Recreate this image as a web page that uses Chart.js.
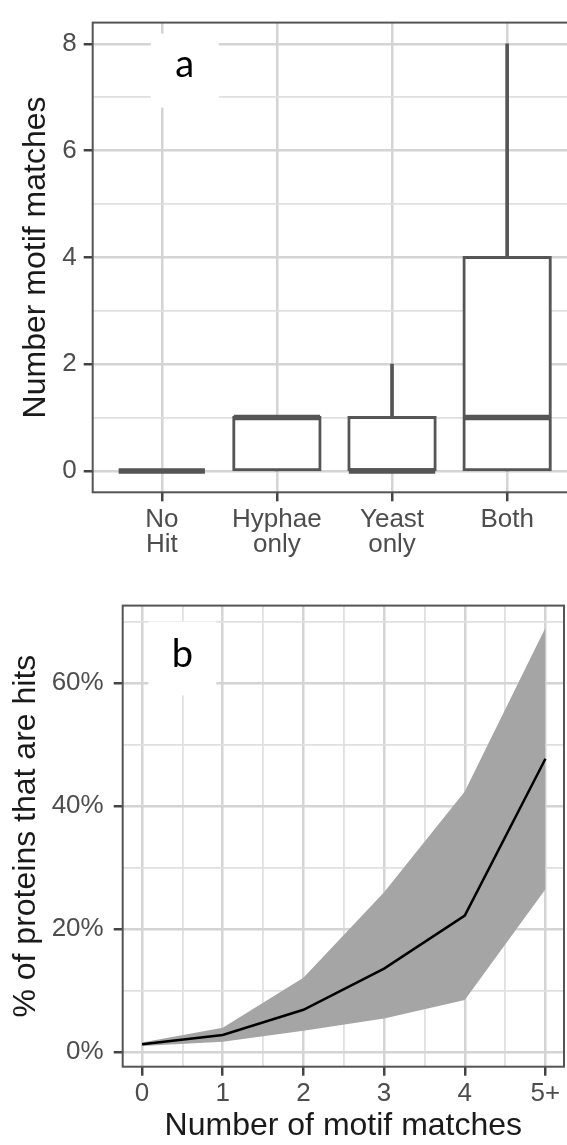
<!DOCTYPE html>
<html>
<head>
<meta charset="utf-8">
<script src="https://cdn.jsdelivr.net/npm/chart.js@4.4.1/dist/chart.umd.min.js"></script>
<style>
  html, body { margin: 0; padding: 0; background: #fff; overflow: hidden; }
  .panel { position: absolute; left: 0; }
  #panelA { top: 0; }
  #panelB { top: 580px; }
</style>
</head>
<body>
<div class="panel" id="panelA"><canvas id="chartA" width="567" height="580"></canvas></div>
<div class="panel" id="panelB"><canvas id="chartB" width="567" height="565"></canvas></div>
<script>
// --- panel a: motif matches per hit group (box plot) ---
const groups = [['No', 'Hit'], ['Hyphae', 'only'], ['Yeast', 'only'], ['Both']]
const whiskerLow = [0, 0, 0, 0]
const q1 = [0, 0, 0, 0]
const medians = [0, 1, 0, 1]
const q3 = [0, 1, 1, 4]
const whiskerHigh = [0, 1, 2, 8]
const countTicks = [0, 2, 4, 6, 8]
const countMinor = [1, 3, 5, 7]

// --- panel b: % hits by number of motif matches ---
const matchLabels = ['0', '1', '2', '3', '4', '5+']
const matchMinor = [0.5, 1.5, 2.5, 3.5, 4.5]
const hitPct = [1.3, 2.8, 6.9, 13.6, 22.2, 47.7]
const hitLow = [1.0, 1.7, 3.5, 5.5, 8.5, 26.5]
const hitHigh = [1.6, 4.0, 12.1, 26.0, 42.4, 69.0]
const pctTicks = [0, 20, 40, 60]
const pctMinor = [10, 30, 50, 70]

const FONT = "'Liberation Sans', Arial, sans-serif"
const ink = '#555555'
const BOX_W = 0.75

// ggplot-ish grid: major lines thicker, minor lighter, ticks only on majors
function gridFor(majors) {
  const isMajor = c => c.tick && majors.includes(c.tick.value)
  return {
    color: c => isMajor(c) ? '#d4d4d4' : '#e0e0e0',
    lineWidth: c => isMajor(c) ? 2.5 : 1.8,
    tickColor: c => isMajor(c) ? '#444' : 'rgba(0,0,0,0)',
    tickWidth: 2.5,
    tickLength: 9,
    offset: false
  }
}

function setTicks(majors, minors) {
  return scale => {
    scale.ticks = majors.concat(minors).sort((a, b) => a - b).map(v => ({ value: v }))
  }
}

const frame = {
  id: 'frame',
  afterDatasetsDraw(chart, args, opts) {
    const { ctx, chartArea: a } = chart
    ctx.save()
    ctx.strokeStyle = '#555'
    ctx.lineWidth = 2
    // panel a is cut on the right in the original figure
    ctx.strokeRect(a.left, a.top, a.width + (opts.openRight ? 30 : 0), a.height)
    ctx.restore()
  }
}

const panelTag = {
  id: 'panelTag',
  beforeDatasetsDraw(chart, args, opts) {
    const { ctx } = chart
    const x = chart.scales.x.getPixelForValue(opts.x)
    const y = chart.scales.y.getPixelForValue(opts.y)
    ctx.save()
    ctx.fillStyle = '#fff'
    ctx.fillRect(x - 34, y - 37, 68, 74)
    ctx.fillStyle = '#000'
    ctx.font = "38px Lato, 'Open Sans', sans-serif"
    ctx.textAlign = 'center'
    ctx.textBaseline = 'middle'
    ctx.fillText(opts.text, x, y + opts.dy)
    ctx.restore()
  }
}

// Chart A
const boxes = groups.map((g, i) => ({ x: i, y: [q1[i], q3[i]] }))
const upperWhiskers = groups.map((g, i) => ({ x: i, y: [q3[i], whiskerHigh[i]] }))
const lowerWhiskers = groups.map((g, i) => ({ x: i, y: [whiskerLow[i], q1[i]] }))
const medianSegs = medians.flatMap((m, i) => [
  { x: i - BOX_W / 2, y: m },
  { x: i + BOX_W / 2, y: m },
  { x: i + 0.5, y: null }
])

new Chart(document.getElementById('chartA'), {
  type: 'bar',
  data: {
    datasets: [
      {
        type: 'line', label: 'median', data: medianSegs,
        borderColor: ink, borderWidth: 5.5, pointRadius: 0, spanGaps: false, order: 1
      },
      {
        type: 'bar', label: 'upper whisker', data: upperWhiskers,
        backgroundColor: ink, barThickness: 3, grouped: false, order: 2
      },
      {
        type: 'bar', label: 'lower whisker', data: lowerWhiskers,
        backgroundColor: ink, barThickness: 3, grouped: false, order: 2
      },
      {
        type: 'bar', label: 'box', data: boxes,
        backgroundColor: '#fff', borderColor: ink, borderWidth: 3, borderSkipped: false,
        inflateAmount: 1.5, categoryPercentage: 1, barPercentage: BOX_W, grouped: false, order: 3
      }
    ]
  },
  options: {
    responsive: false,
    animation: false,
    layout: { padding: { top: 12, right: 0, left: 0, bottom: 0 } },
    plugins: {
      legend: { display: false },
      tooltip: { enabled: false },
      frame: { openRight: true },
      panelTag: { text: 'a', x: 0.2, y: 7.5, dy: -6 }
    },
    scales: {
      x: {
        type: 'linear', min: -0.6, max: 3.52, offset: false,
        afterBuildTicks: setTicks([0, 1, 2, 3], []),
        afterFit: s => { s.height = 87.7 },
        grid: gridFor([0, 1, 2, 3]),
        border: { display: false },
        ticks: {
          autoSkip: false, maxRotation: 0, padding: 6, color: '#4d4d4d',
          font: { family: FONT, size: 26, lineHeight: 0.96 },
          callback: v => groups[v]
        }
      },
      y: {
        min: -0.4, max: 8.4,
        afterBuildTicks: setTicks(countTicks, countMinor),
        afterFit: s => { s.width = 92.7 },
        grid: gridFor(countTicks),
        border: { display: false },
        ticks: {
          autoSkip: false, padding: 7, color: '#4d4d4d',
          font: { family: FONT, size: 26 },
          callback: v => countTicks.includes(v) ? String(v) : ''
        },
        title: {
          display: true, text: 'Number motif matches', color: '#1a1a1a',
          font: { family: FONT, size: 32 }, padding: { top: 17, bottom: 0 }
        }
      }
    }
  },
  plugins: [frame, panelTag]
})

// Chart B
const pts = vals => vals.map((v, i) => ({ x: i, y: v }))

new Chart(document.getElementById('chartB'), {
  type: 'line',
  data: {
    datasets: [
      {
        label: 'hits', data: pts(hitPct),
        borderColor: '#000', borderWidth: 2.5, pointRadius: 0, fill: false, order: 0
      },
      {
        label: 'lower', data: pts(hitLow),
        borderWidth: 0, borderColor: 'rgba(0,0,0,0)', pointRadius: 0, fill: false, order: 1
      },
      {
        label: 'upper', data: pts(hitHigh),
        borderWidth: 0, borderColor: 'rgba(0,0,0,0)', pointRadius: 0,
        backgroundColor: '#a5a5a5', fill: '-1', order: 1
      }
    ]
  },
  options: {
    responsive: false,
    animation: false,
    layout: { padding: { top: 18, right: 3, left: 0, bottom: 0 } },
    plugins: {
      legend: { display: false },
      tooltip: { enabled: false },
      frame: { openRight: false },
      panelTag: { text: 'b', x: 0.5, y: 64, dy: -4 }
    },
    scales: {
      x: {
        type: 'linear', min: -0.24, max: 5.23,
        afterBuildTicks: setTicks([0, 1, 2, 3, 4, 5], matchMinor),
        afterFit: s => { s.height = 78.3 },
        grid: gridFor([0, 1, 2, 3, 4, 5]),
        border: { display: false },
        ticks: {
          autoSkip: false, maxRotation: 0, padding: 3, color: '#4d4d4d',
          font: { family: FONT, size: 26 },
          callback: v => Number.isInteger(v) ? matchLabels[v] : ''
        },
        title: {
          display: true, text: 'Number of motif matches', color: '#1a1a1a',
          font: { family: FONT, size: 32 }, padding: { top: 0, bottom: 0 }
        }
      },
      y: {
        min: -2.35, max: 72.6,
        afterBuildTicks: setTicks(pctTicks, pctMinor),
        afterFit: s => { s.width = 122.7 },
        grid: gridFor(pctTicks),
        border: { display: false },
        ticks: {
          autoSkip: false, padding: 10, color: '#4d4d4d',
          font: { family: FONT, size: 26 },
          callback: v => pctTicks.includes(v) ? v + '%' : ''
        },
        title: {
          display: true, text: '% of proteins that are hits', color: '#1a1a1a',
          font: { family: FONT, size: 32 }, padding: { top: 7, bottom: 0 }
        }
      }
    }
  },
  plugins: [frame, panelTag]
})
</script>
</body>
</html>
